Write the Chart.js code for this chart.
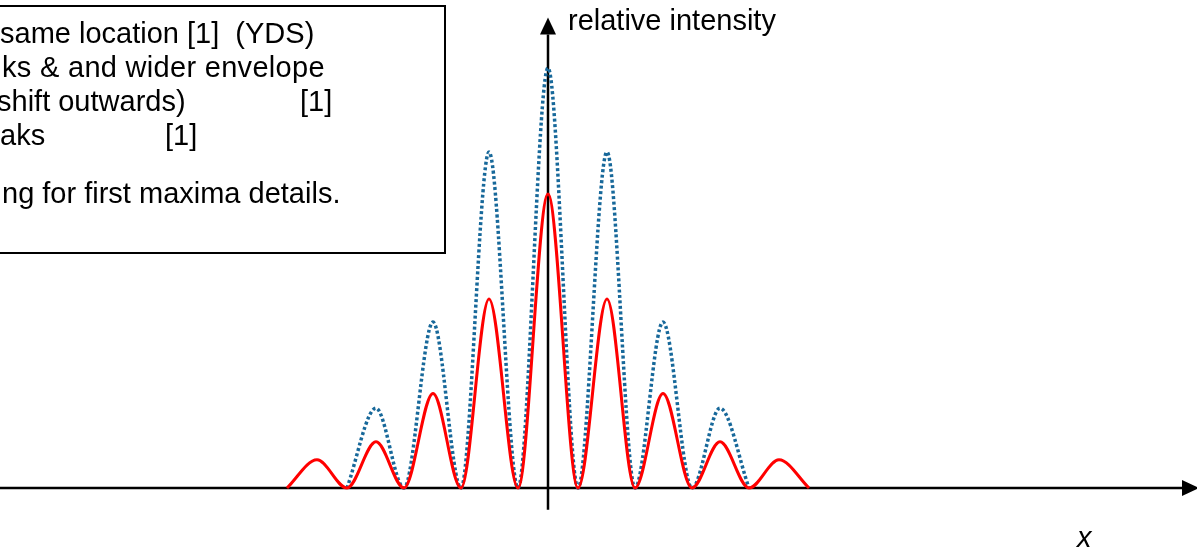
<!DOCTYPE html>
<html>
<head>
<meta charset="utf-8">
<script src="https://cdn.jsdelivr.net/npm/chart.js@4/dist/chart.umd.min.js"></script>
<style>
  html, body { margin: 0; padding: 0; background: #fff; overflow: hidden; }
  #wrap { position: relative; width: 1197px; height: 552px; overflow: hidden; }
  #c { position: absolute; left: 0; top: 0; }
  .txt {
    position: absolute;
    font-family: "Liberation Sans", Arial, sans-serif;
    font-size: 29px;
    line-height: 35px;
    color: #000;
    white-space: pre;
  }
  #notes {
    position: absolute;
    left: -20px; top: 5px;
    width: 466px; height: 249px;
    box-sizing: border-box;
    border: 2px solid #000;
  }
</style>
</head>
<body>
<div id="wrap">
  <canvas id="c" width="1197" height="552"></canvas>
  <div id="notes"></div>
  <div class="txt" style="left:0px; top:15.5px;">same location [1]  (YDS)</div>
  <div class="txt" style="left:2px; top:49.5px; letter-spacing:0.3px;">ks &amp; and wider envelope</div>
  <div class="txt" style="left:-3px; top:83.5px;">shift outwards)</div>
  <div class="txt" style="left:300px; top:83.5px;">[1]</div>
  <div class="txt" style="left:0px; top:117.5px;">aks</div>
  <div class="txt" style="left:165px; top:117.5px;">[1]</div>
  <div class="txt" style="left:2px; top:175.5px;">ng for first maxima details.</div>
  <div class="txt" style="left:568px; top:2.5px;">relative intensity</div>
  <div class="txt" style="left:1077px; top:519.5px; font-style:italic;">x</div>
</div>
<script>
// Fringe positions (distance from the central maximum) and relative intensities.
const redX = [-261, -231, -201, -172, -144, -115, -87, -59, -30, 0, 30, 59, 87, 115, 144, 172, 201, 231, 261];
const redI = [0, 0.067, 0, 0.11, 0, 0.225, 0, 0.45, 0, 0.70, 0, 0.45, 0, 0.225, 0, 0.11, 0, 0.067, 0];

const blueX = [-201, -172, -144, -115, -87, -59, -30, 0, 30, 59, 87, 115, 144, 172, 201];
const blueI = [0, 0.19, 0, 0.395, 0, 0.80, 0, 1.00, 0, 0.80, 0, 0.395, 0, 0.19, 0];

// Visible extent of the axes.
const xRange = [-548, 649];
const yRange = [-0.1524, 1.1619];

const toPoints = (xs, ys) => xs.map((x, i) => ({ x: x, y: ys[i] }));

// Draws the two arrowed axes through the origin.
const axesPlugin = {
  id: 'arrowAxes',
  beforeDatasetsDraw(chart) {
    const ctx = chart.ctx;
    const xs = chart.scales.x, ys = chart.scales.y;
    const ox = xs.getPixelForValue(0);
    const oy = ys.getPixelForValue(0);
    const left = chart.chartArea.left;
    const xTip = xs.getPixelForValue(651);
    const yTip = ys.getPixelForValue(1.12);
    const yLow = ys.getPixelForValue(-0.052);
    const head = 17, half = 8;
    ctx.save();
    ctx.strokeStyle = '#000';
    ctx.fillStyle = '#000';
    ctx.lineWidth = 2.5;
    ctx.beginPath();
    ctx.moveTo(left, oy);
    ctx.lineTo(xTip - head, oy);
    ctx.moveTo(ox, yLow);
    ctx.lineTo(ox, yTip + head);
    ctx.stroke();
    ctx.beginPath();
    ctx.moveTo(xTip, oy);
    ctx.lineTo(xTip - head, oy - half);
    ctx.lineTo(xTip - head, oy + half);
    ctx.closePath();
    ctx.fill();
    ctx.beginPath();
    ctx.moveTo(ox, yTip);
    ctx.lineTo(ox - half, yTip + head);
    ctx.lineTo(ox + half, yTip + head);
    ctx.closePath();
    ctx.fill();
    ctx.restore();
  }
};

new Chart(document.getElementById('c'), {
  type: 'line',
  data: {
    datasets: [
      {
        label: 'red',
        data: toPoints(redX, redI),
        borderColor: '#ff0000',
        borderWidth: 3,
        pointRadius: 0,
        cubicInterpolationMode: 'monotone',
        fill: false
      },
      {
        label: 'blue',
        data: toPoints(blueX, blueI),
        borderColor: '#17689a',
        borderWidth: 3.5,
        borderDash: [3, 2.5],
        borderCapStyle: 'butt',
        pointRadius: 0,
        cubicInterpolationMode: 'monotone',
        fill: false
      }
    ]
  },
  options: {
    responsive: false,
    animation: false,
    layout: { padding: 0 },
    plugins: { legend: { display: false }, tooltip: { enabled: false } },
    scales: {
      x: { type: 'linear', min: xRange[0], max: xRange[1], display: false },
      y: { type: 'linear', min: yRange[0], max: yRange[1], display: false }
    }
  },
  plugins: [axesPlugin]
});
</script>
</body>
</html>
